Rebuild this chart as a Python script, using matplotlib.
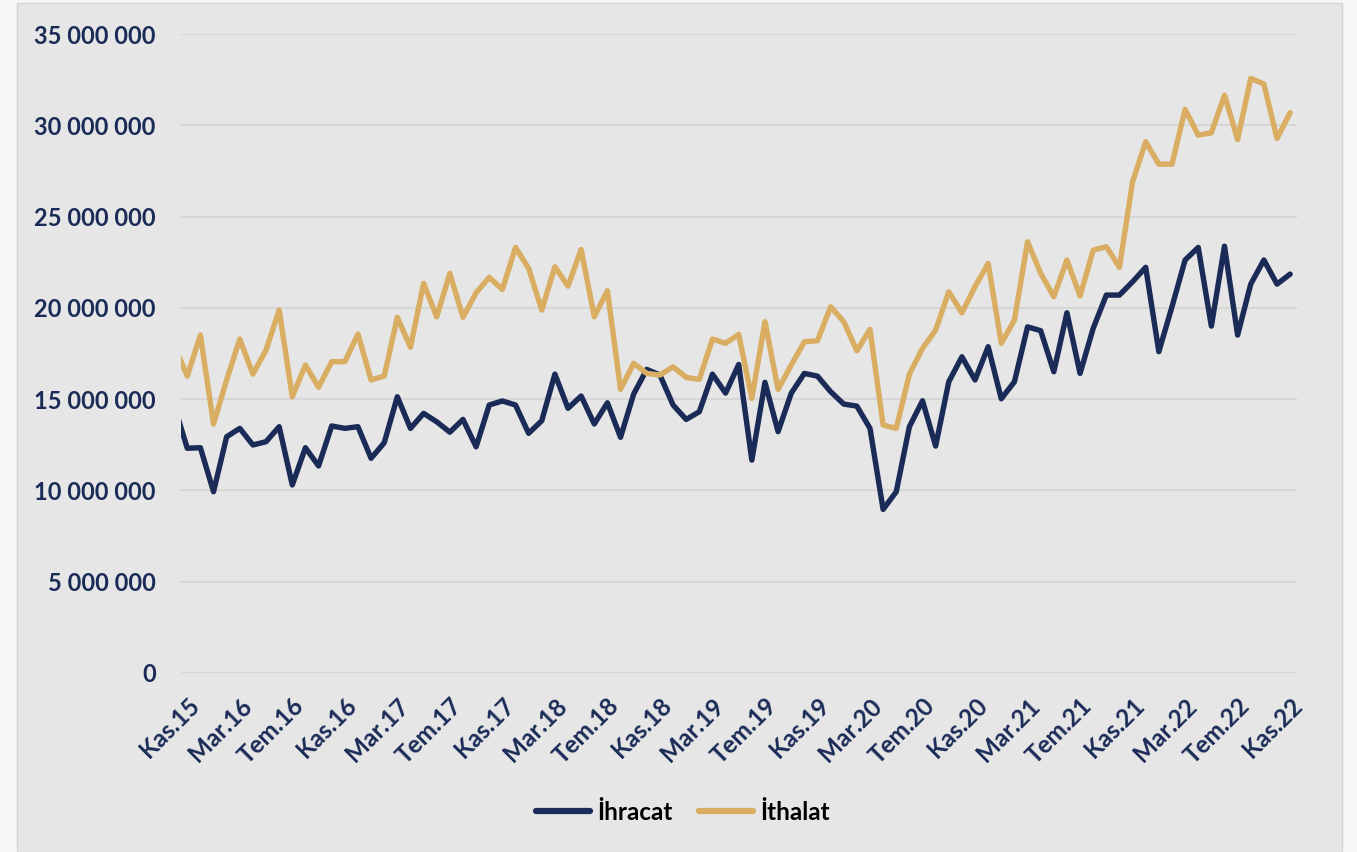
import numpy as np
import matplotlib
matplotlib.use("Agg")
import matplotlib.pyplot as plt
from matplotlib.patches import Rectangle
from matplotlib.ticker import FuncFormatter

# Monthly data, Eki.15 (partly clipped at left edge) .. Kas.22, values in units
ihracat = [14.67,
    12.31, 12.34, 9.93, 12.94, 13.40, 12.49, 12.67, 13.49, 10.30, 12.34,
    11.34, 13.53, 13.40, 13.49, 11.76, 12.61, 15.13, 13.40, 14.22, 13.76,
    13.19, 13.89, 12.39, 14.68, 14.90, 14.68, 13.13, 13.82, 16.37, 14.50,
    15.17, 13.64, 14.80, 12.91, 15.28, 16.63, 16.32, 14.68, 13.89, 14.31,
    16.37, 15.33, 16.90, 11.66, 15.92, 13.22, 15.32, 16.41, 16.26, 15.41,
    14.73, 14.62, 13.40, 8.96, 9.93, 13.49, 14.91, 12.43, 15.95, 17.32,
    16.05, 17.87, 15.02, 15.95, 18.96, 18.75, 16.50, 19.73, 16.41, 18.88,
    20.70, 20.70, 21.43, 22.22, 17.60, 20.06, 22.62, 23.31, 19.00, 23.38,
    18.51, 21.30, 22.62, 21.30, 21.85]
ithalat = [17.96,
    16.26, 18.51, 13.64, 16.05, 18.29, 16.37, 17.69, 19.88, 15.13, 16.87,
    15.65, 17.05, 17.05, 18.56, 16.05, 16.26, 19.48, 17.84, 21.34, 19.51,
    21.89, 19.48, 20.83, 21.67, 21.01, 23.31, 22.16, 19.88, 22.25, 21.19,
    23.20, 19.51, 20.94, 15.54, 16.96, 16.41, 16.32, 16.77, 16.19, 16.08,
    18.29, 18.06, 18.55, 15.04, 19.24, 15.54, 16.87, 18.14, 18.20, 20.06,
    19.24, 17.65, 18.82, 13.58, 13.40, 16.37, 17.78, 18.78, 20.88, 19.73,
    21.16, 22.43, 18.06, 19.33, 23.62, 21.89, 20.61, 22.62, 20.65, 23.16,
    23.35, 22.22, 26.91, 29.10, 27.87, 27.87, 30.87, 29.46, 29.59, 31.65,
    29.22, 32.57, 32.26, 29.28, 30.69]
ihracat = [v * 1e6 for v in ihracat]
ithalat = [v * 1e6 for v in ithalat]

tick_labels = ["Kas.15", "Mar.16", "Tem.16", "Kas.16", "Mar.17", "Tem.17",
               "Kas.17", "Mar.18", "Tem.18", "Kas.18", "Mar.19", "Tem.19",
               "Kas.19", "Mar.20", "Tem.20", "Kas.20", "Mar.21", "Tem.21",
               "Kas.21", "Mar.22", "Tem.22", "Kas.22"]
series_names = ["İhracat", "İthalat"]

NAVY = "#1b2b57"
GOLD = "#d9ae62"
BG = "#e6e6e6"

plt.rcParams['font.family'] = ['Lato', 'DejaVu Sans']

fig = plt.figure(figsize=(13.57, 8.52), dpi=100)
fig.patch.set_facecolor("#f4f6f8")
bgrect = Rectangle((17 / 1357, 0), (1342 - 17) / 1357, (852 - 3) / 852,
                   transform=fig.transFigure, facecolor=BG,
                   edgecolor="#d4d4d4", linewidth=1.0, zorder=-10)
fig.patches.append(bgrect)

ax = fig.add_axes([180.7 / 1357, 179 / 852, (1296.7 - 180.7) / 1357, (673 - 34) / 852])
ax.set_zorder(2)
ax.set_facecolor("none")

x = np.arange(len(ihracat)) - 1
ax.plot(x, ihracat, color=NAVY, lw=3.9, solid_joinstyle="round", solid_capstyle="round",
        label=series_names[0], zorder=3)
ax.plot(x, ithalat, color=GOLD, lw=3.9, solid_joinstyle="round", solid_capstyle="round",
        label=series_names[1], zorder=3)

ax.set_xlim(-0.5, 84.5)
ax.set_ylim(0, 35e6)
ax.set_yticks(np.arange(0, 35e6 + 1, 5e6))
ax.yaxis.set_major_formatter(FuncFormatter(lambda v, p: f"{int(v):,}".replace(",", " ")))
ax.grid(axis="y", color="#d6d6d6", lw=1.5, zorder=1)
ax.set_axisbelow(True)
for s in ax.spines.values():
    s.set_visible(False)

ax.set_xticks(np.arange(0, 85, 4))
ax.set_xticklabels(tick_labels, rotation=45, ha="right", rotation_mode="anchor")
ax.tick_params(axis="x", length=0, pad=15, labelsize=17.5, labelcolor=NAVY)
ax.tick_params(axis="y", length=0, pad=18, labelsize=17, labelcolor=NAVY)
for lab in ax.get_xticklabels() + ax.get_yticklabels():
    lab.set_fontweight("bold")

leg = fig.legend(loc="center", bbox_to_anchor=(683 / 1357, 1 - 812 / 852), ncol=2,
                 frameon=False, handlelength=2.2, handletextpad=0.3, columnspacing=1.1,
                 prop={"weight": "bold", "size": 17.5})
for line in leg.get_lines():
    line.set_linewidth(4.5)

fig.savefig("out.png", dpi=100, facecolor=fig.get_facecolor())
